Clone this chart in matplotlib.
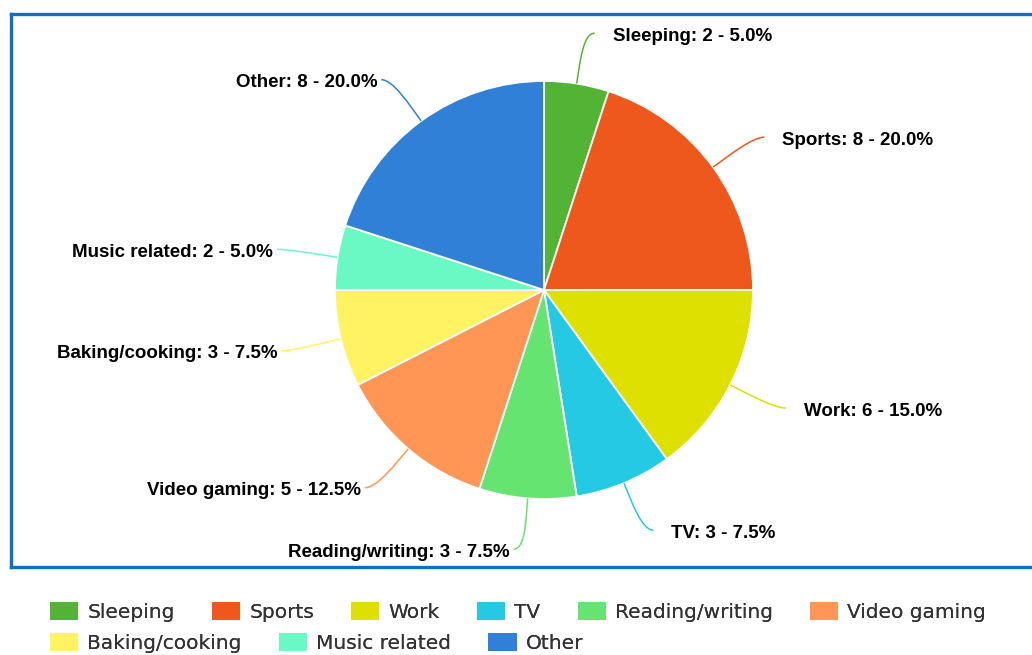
import numpy as np
import matplotlib
matplotlib.use("Agg")
import matplotlib.pyplot as plt
from matplotlib.path import Path
from matplotlib.patches import PathPatch, Patch

categories = ["Sleeping", "Sports", "Work", "TV", "Reading/writing",
              "Video gaming", "Baking/cooking", "Music related", "Other"]
counts = [2, 8, 6, 3, 3, 5, 3, 2, 8]
colors = ["#52b335", "#ee581d", "#dde000", "#26c9e3", "#66e472",
          "#ff9655", "#fff263", "#6af9c4", "#3080d8"]

W, H = 1032, 655
fig = plt.figure(figsize=(W / 100, H / 100), dpi=100)
ax = fig.add_axes([0, 0, 1, 1])

# pixel helpers: work in pixel units, y measured from the top
def py(y):
    return H - y

cx, cy, r = 544, py(290), 209

wedges, _ = ax.pie(counts, colors=colors, startangle=90, counterclock=False,
                   center=(cx, cy), radius=r,
                   wedgeprops=dict(edgecolor="white", linewidth=1.3))
ax.set_xlim(0, W)
ax.set_ylim(0, H)
ax.set_aspect("equal")
ax.axis("off")

# labels with curved connectors
total = sum(counts)
for w, name, n, col in zip(wedges, categories, counts, colors):
    mid = np.deg2rad((w.theta1 + w.theta2) / 2)
    u = np.array([np.cos(mid), np.sin(mid)])
    side = 1 if u[0] >= 0 else -1
    c = np.array([cx, cy])
    p0 = c + r * u
    p1 = c + (r + 20) * u
    end = c + 260 * u + np.array([side * 10, 0])
    p2 = end - np.array([side * 12, 0])
    path = Path([p0, p1, p2, end],
                [Path.MOVETO, Path.CURVE4, Path.CURVE4, Path.CURVE4])
    ax.add_patch(PathPatch(path, fc="none", ec=col, lw=1.1))
    gap = 18 if side > 0 else 4
    ax.text(end[0] + side * gap, end[1] - 3,
            f"{name}: {n} - {n / total * 100:.1f}%",
            ha="left" if side > 0 else "right", va="center",
            fontsize=13.5, fontweight="bold", family="Liberation Sans",
            color="black")

# blue frame (right edge falls outside the image)
frame = dict(color="#0a70c8", lw=2.4, solid_capstyle="projecting")
ax.plot([11, 11], [py(13.5), py(567)], **frame)
ax.plot([11, W + 5], [py(13.5), py(13.5)], **frame)
ax.plot([11, W + 5], [py(567), py(567)], **frame)

# legend, two flowing rows
handles = [Patch(facecolor=col, edgecolor="none") for col in colors]
rows = [(range(0, 6), 612), (range(6, 9), 643)]
for idx, yc in rows:
    leg = fig.legend([handles[i] for i in idx], [categories[i] for i in idx],
                     loc="center left", bbox_to_anchor=(50 / W, 1 - yc / H),
                     ncol=len(idx), frameon=False, fontsize=14.5,
                     handlelength=1.4, handleheight=1.0, handletextpad=0.45,
                     columnspacing=1.85, borderpad=0, borderaxespad=0,
                     labelcolor="#333333")
    fig.add_artist(leg)

fig.savefig("out.png", dpi=100)
